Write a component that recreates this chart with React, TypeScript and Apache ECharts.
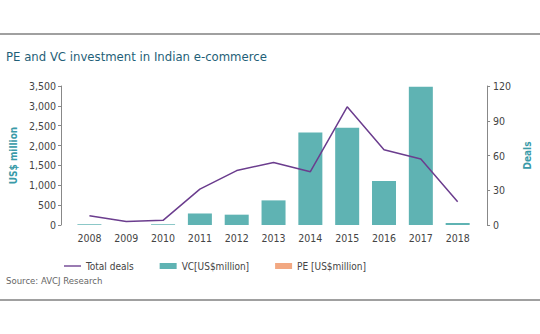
import React, { useEffect, useRef } from "react";
import * as echarts from "echarts";

const years = ["2008", "2009", "2010", "2011", "2012", "2013", "2014", "2015", "2016", "2017", "2018"];
const vcValues = [18, 0, 18, 290, 260, 620, 2330, 2450, 1110, 3480, 50];
const peValues = [0, 0, 0, 0, 0, 0, 0, 0, 0, 0, 0];
const totalDeals = [8, 3, 4, 31, 47, 54, 46, 102, 65, 57, 20];

const FONT = "'DejaVu Sans Condensed', 'Roboto', sans-serif";

export default function App() {
  const ref = useRef<HTMLDivElement>(null);
  useEffect(() => {
    if (!ref.current) return;
    const chart = echarts.init(ref.current, null, { renderer: "svg" });
    chart.setOption({
      animation: false,
      backgroundColor: "#ffffff",
      textStyle: { fontFamily: FONT },
      title: {
        text: "PE and VC investment in Indian e-commerce",
        left: 1,
        top: 45,
        textStyle: { fontFamily: FONT, fontSize: 13, fontWeight: "normal", color: "#1f5f78" },
      },
      graphic: [
        { type: "line", shape: { x1: 0, y1: 34, x2: 540, y2: 34 }, style: { stroke: "#a0a0a0", lineWidth: 2 } },
        { type: "line", shape: { x1: 0, y1: 300, x2: 540, y2: 300 }, style: { stroke: "#a0a0a0", lineWidth: 2 } },
        {
          type: "text",
          left: 6,
          top: 275,
          style: { text: "Source: AVCJ Research", fill: "#666666", fontSize: 9.5, fontFamily: FONT },
        },
      ],
      legend: {
        left: 59,
        top: 256,
        itemWidth: 17,
        itemHeight: 6,
        itemGap: 26,
        textStyle: { fontFamily: FONT, fontSize: 10, color: "#444444" },
        data: [
          { name: "Total deals", icon: "path://M0,0 L20,0 L20,1.6 L0,1.6 Z" },
          { name: "VC[US$million]", icon: "rect" },
          { name: "PE [US$million]", icon: "rect" },
        ],
      },
      grid: { left: 70, right: 54, top: 86, bottom: 109 },
      xAxis: {
        type: "category",
        data: years,
        axisLine: { show: false },
        axisTick: { show: false },
        axisLabel: { color: "#444444", fontSize: 10.5, margin: 7, fontFamily: FONT },
      },
      yAxis: [
        {
          type: "value",
          min: 0,
          max: 3500,
          interval: 500,
          offset: 10,
          name: "US$ million",
          nameLocation: "middle",
          nameGap: 43,
          nameRotate: 90,
          nameTextStyle: { color: "#3a9aa8", fontSize: 10, fontWeight: "bold", fontFamily: FONT },
          axisLine: { show: true, lineStyle: { color: "#888888" } },
          axisTick: { show: true, length: 3, lineStyle: { color: "#888888" } },
          splitLine: { show: false },
          axisLabel: {
            color: "#444444",
            fontSize: 10.5,
            margin: 5,
            fontFamily: FONT,
            formatter: (v: number) => v.toLocaleString("en-US"),
          },
        },
        {
          type: "value",
          min: 0,
          max: 120,
          interval: 30,
          offset: 11,
          name: "Deals",
          nameLocation: "middle",
          nameGap: 26,
          nameRotate: 90,
          nameTextStyle: { color: "#3a9aa8", fontSize: 10, fontWeight: "bold", fontFamily: FONT },
          axisLine: { show: true, lineStyle: { color: "#888888" } },
          axisTick: { show: true, length: 3, lineStyle: { color: "#888888" } },
          splitLine: { show: false },
          axisLabel: { color: "#444444", fontSize: 10.5, margin: 6, fontFamily: FONT },
        },
      ],
      series: [
        {
          name: "Total deals",
          type: "line",
          yAxisIndex: 1,
          data: totalDeals,
          symbol: "none",
          lineStyle: { color: "#6b3d8e", width: 1.5 },
          itemStyle: { color: "#6b3d8e" },
          z: 5,
        },
        {
          name: "VC[US$million]",
          type: "bar",
          stack: "inv",
          data: vcValues,
          barWidth: 24,
          itemStyle: { color: "#5fb3b3" },
        },
        {
          name: "PE [US$million]",
          type: "bar",
          stack: "inv",
          data: peValues,
          barWidth: 24,
          itemStyle: { color: "#f2a882" },
        },
      ],
    });
    return () => chart.dispose();
  }, []);
  return <div ref={ref} style={{ position: "fixed", left: 0, top: 0, width: 540, height: 334 }} />;
}
